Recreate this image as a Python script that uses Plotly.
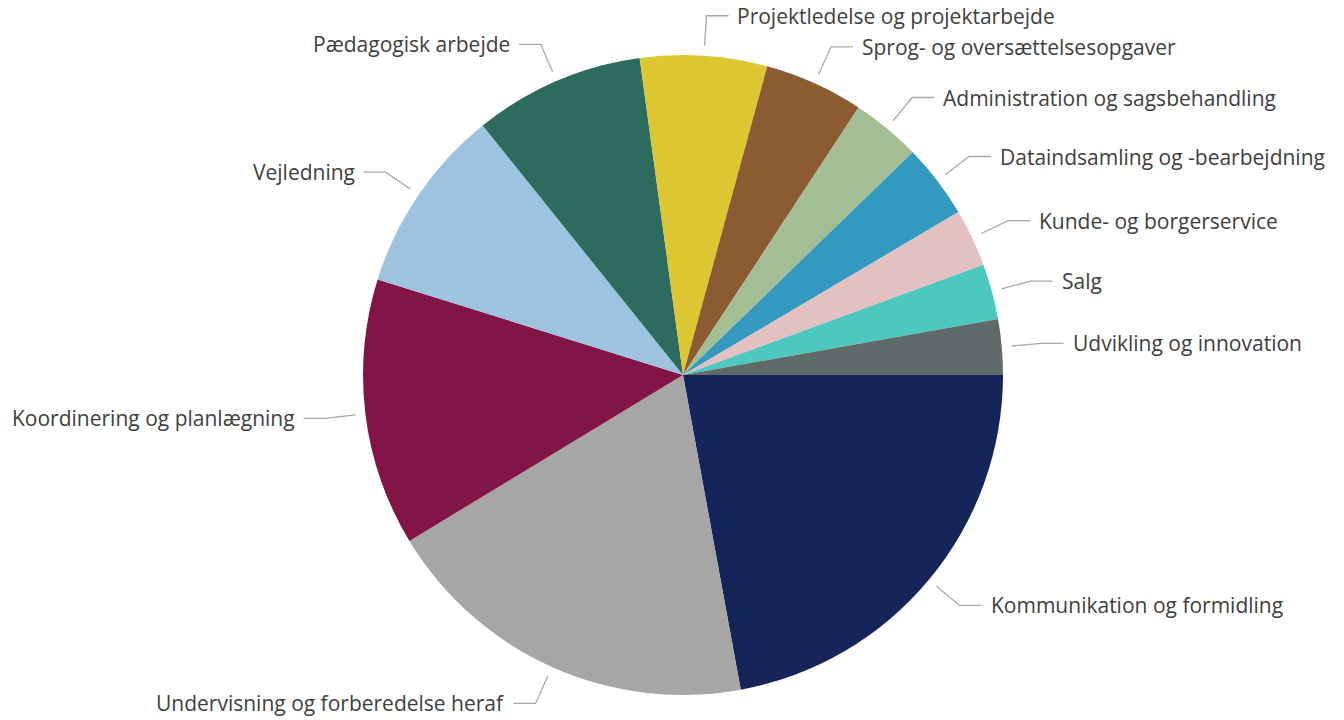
import math
import plotly.graph_objects as go

# Share of tasks (percent), listed clockwise from 3 o'clock
labels = [
    "Kommunikation og formidling",
    "Undervisning og forberedelse heraf",
    "Koordinering og planlægning",
    "Vejledning",
    "Pædagogisk arbejde",
    "Projektledelse og projektarbejde",
    "Sprog- og oversættelsesopgaver",
    "Administration og sagsbehandling",
    "Dataindsamling og -bearbejdning",
    "Kunde- og borgerservice",
    "Salg",
    "Udvikling og innovation",
]
values = [22.1, 19.2, 13.5, 9.4, 8.6, 6.4, 5.0, 3.5, 3.75, 2.9, 2.8, 2.8]
colors = [
    "#15255A", "#A6A6A6", "#821448", "#9DC3DE", "#2E6B5F", "#DCC631",
    "#8B5B32", "#A3BE95", "#3499BF", "#E3C1C1", "#4CC8BF", "#5F6B6B",
]

W, H = 1344, 720
CX, CY, R = 683, 375, 320  # pie centre and radius in pixels

fig = go.Figure(
    go.Pie(
        labels=labels,
        values=values,
        sort=False,
        direction="clockwise",
        rotation=90,
        textinfo="none",
        hoverinfo="label+percent",
        marker=dict(colors=colors, line=dict(width=0)),
        domain=dict(
            x=[(CX - R) / W, (CX + R) / W],
            y=[(H - CY - R) / H, (H - CY + R) / H],
        ),
        showlegend=False,
    )
)


def to_paper(px, py):
    return px / W, 1 - py / H


# Leader lines and outside labels placed at each slice's mid-angle
total = sum(values)
start = 0.0
shapes, annotations = [], []
for lab, val in zip(labels, values):
    span = 360 * val / total
    mid = math.radians(start + span / 2)
    start += span
    c, s = math.cos(mid), math.sin(mid)
    x0, y0 = CX + (R + 10) * c, CY + (R + 10) * s
    x1, y1 = CX + (R + 40) * c, CY + (R + 40) * s
    side = 1 if c >= 0 else -1
    x2 = x1 + side * 22
    p0, p1, p2 = to_paper(x0, y0), to_paper(x1, y1), to_paper(x2, y1)
    shapes.append(dict(
        type="path", xref="paper", yref="paper",
        path=f"M {p0[0]},{p0[1]} L {p1[0]},{p1[1]} L {p2[0]},{p2[1]}",
        line=dict(color="#A8A8A8", width=1.3),
    ))
    tx, ty = to_paper(x2 + side * 7, y1)
    annotations.append(dict(
        x=tx, y=ty, xref="paper", yref="paper", text=lab, showarrow=False,
        xanchor="left" if side > 0 else "right", yanchor="middle",
        font=dict(family="Open Sans", size=21, color="#404040"),
    ))

fig.update_layout(
    width=W, height=H,
    margin=dict(l=0, r=0, t=0, b=0),
    paper_bgcolor="white",
    plot_bgcolor="white",
    shapes=shapes,
    annotations=annotations,
)

fig.write_html("out.html")
